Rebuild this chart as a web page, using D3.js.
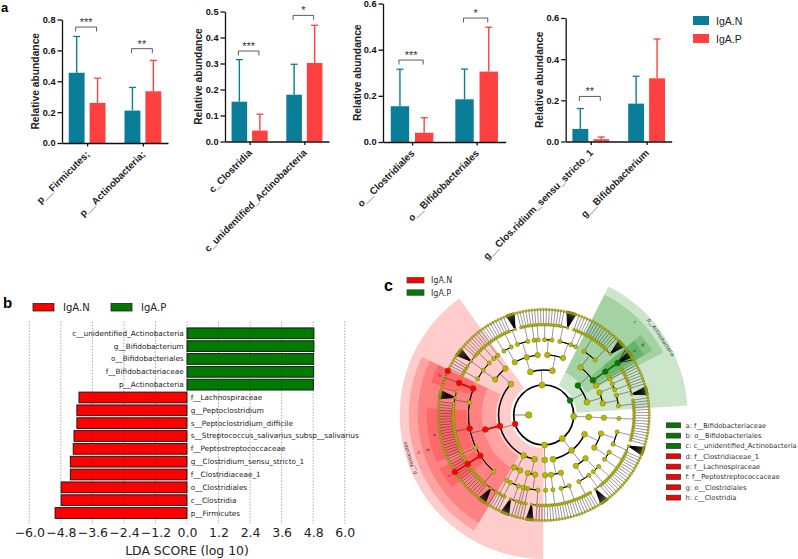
<!DOCTYPE html>
<html><head><meta charset="utf-8">
<script src="https://cdn.jsdelivr.net/npm/d3@7/dist/d3.min.js"></script>
<style>html,body{margin:0;padding:0;background:#fff}svg{display:block}</style>
</head><body><div id="c"></div>
<script>
// ---------- panel a data ----------
const seriesNames = ["IgA.N", "IgA.P"];
const groups1 = ["p__Firmicutes;", "p__Actinobacteria;"];
const mean1 = [[0.455, 0.26], [0.21, 0.335]];
const upper1 = [[0.69, 0.42], [0.36, 0.535]];
const stars1 = ["***", "**"];
const level1 = [0.751, 0.611];
const ticks1 = [0, 0.2, 0.4, 0.6, 0.8];
const groups2 = ["c_Clostridia", "c_unidentified_Actinobacteria"];
const mean2 = [[0.153, 0.042], [0.18, 0.302]];
const upper2 = [[0.315, 0.105], [0.297, 0.447]];
const stars2 = ["***", "*"];
const level2 = [0.348, 0.485];
const ticks2 = [0, 0.1, 0.2, 0.3, 0.4, 0.5];
const groups3 = ["o__Clostridiales", "o__Bifidobacteriales"];
const mean3 = [[0.155, 0.04], [0.185, 0.305]];
const upper3 = [[0.315, 0.105], [0.316, 0.497]];
const stars3 = ["***", "*"];
const level3 = [0.355, 0.537];
const ticks3 = [0, 0.2, 0.4, 0.6];
const groups4 = ["g__Clos.ridium_sensu_stricto_1", "g__Bifidobacterium"];
const mean4 = [[0.061, 0.011], [0.184, 0.307]];
const upper4 = [[0.16, 0.022], [0.317, 0.498]];
const stars4 = ["**", ""];
const level4 = [0.219, 0];
const ticks4 = [0, 0.2, 0.4, 0.6];
// ---------- panel b data ----------
const ldaNames = ["c__unidentified_Actinobacteria","g__Bifidobacterium","o__Bifidobacteriales","f__Bifidobacteriaceae","p__Actinobacteria","f__Lachnospiraceae","g__Peptoclostridium","s__Peptoclostridium_difficile","s__Streptococcus_salivarius_subsp__salivarius","f__Peptostreptococcaceae","g__Clostridium_sensu_stricto_1","f__Clostridiaceae_1","o__Clostridiales","c__Clostridia","p__Firmicutes"];
const ldaValues = [4.83,4.83,4.82,4.82,4.81,-4.11,-4.19,-4.19,-4.30,-4.33,-4.44,-4.44,-4.79,-4.79,-5.02];
const ldaTicks = [-6,-4.8,-3.6,-2.4,-1.2,0,1.2,2.4,3.6,4.8,6];
// ---------- panel c data: taxonomy as nested lists (number = unbranched lineage with that many species, negative = tight fan) ----------
const taxFirmicutes = ["p__Firmicutes",
  [[[1,1,1,-12],[1,1]],[1,1]],
  [[[1,-14],[1,1]],[[1,1]]],
  ["c__Clostridia",["o__Clostridiales",
    [1,-14,1,1,1,1,1,1,1,1],
    ["f__Peptostreptococcaceae",1,1,1,["g__Peptoclostridium",["s__Peptoclostridium_difficile"]],1,1,1],
    [1,1],
    ["f__Lachnospiraceae",1,1,1,1,1,1,1,1,1,1,1,1,1,1,1,1,1],
    [1,1,1,-14,1],
    ["f__Clostridiaceae_1",["g__Clostridium_sensu_stricto_1",1,1,1,1,1,["s__Streptococcus_salivarius"]]]
  ]],
  [[[1,1,1,1],[1,-14,1],[1,1,1]],[[1,1,1],[1,1]]]
];
const taxProteo = ["p__Proteobacteria",
  [[[1,1,1,1,1],[1,1,1]],[[1,-14],[1,1,1,1]],[[1,1],[1,1]]],
  [[[1,1,1,1],[1,1,1]],[[1,1,-16],[1,1,1],[1,1]]]
];
const taxActino = ["p__Actinobacteria",
  ["c__unidentified_Actinobacteria",
    [[1,1,1,1,1,1,1],[1,1,1,1,-14]],
    ["o__Bifidobacteriales",["f__Bifidobacteriaceae",["g__Bifidobacterium",1,-12,1]]],
    [1,1]
  ],
  [[[1,1,1,1],[1,1]],[[1,-14],[1,1,1,1]]]
];
const taxBacteroidetes = ["p__Bacteroidetes",[[[1,1,1,1,1,1,1,1]]]];
const taxSpiro = ["p__Tenericutes",
  [[[1,1,1,1,1],[-14,1,1]],[[1,1,1,1],[1,1,1,1]]],
  [[[1,1,1,1,1],[1,1]],[[1,-14],[1,1,1,1,1]]],
  [[[1,1,1,1,1],[1,1,1]],[[1,1,1,1,1]]]
];
const taxSmall = ["p__Synergistetes",[[[1,1]]]];
const phylaList = [taxFirmicutes, taxProteo, taxActino, taxBacteroidetes, taxSpiro, taxSmall];
const cladeNames = {"p__Firmicutes":"N","c__Clostridia":"N","o__Clostridiales":"N","f__Clostridiaceae_1":"N","f__Lachnospiraceae":"N","f__Peptostreptococcaceae":"N","g__Peptoclostridium":"N","s__Peptoclostridium_difficile":"N","g__Clostridium_sensu_stricto_1":"N","s__Streptococcus_salivarius":"N","p__Actinobacteria":"P","c__unidentified_Actinobacteria":"P","o__Bifidobacteriales":"P","f__Bifidobacteriaceae":"P","g__Bifidobacterium":"P"};
const sectorLetters = {"p__Firmicutes":"p__Firmicutes","c__Clostridia":"h","o__Clostridiales":"g","f__Clostridiaceae_1":"d","f__Lachnospiraceae":"e","f__Peptostreptococcaceae":"f","p__Actinobacteria":"p__Actinobacteria","c__unidentified_Actinobacteria":"c","o__Bifidobacteriales":"b","f__Bifidobacteriaceae":"a"};
const keyLabels = ["a: f__Bifidobacteriaceae","b: o__Bifidobacteriales","c: c__unidentified_Actinobacteria","d: f__Clostridiaceae_1","e: f__Lachnospiraceae","f: f__Peptostreptococcaceae","g: o__Clostridiales","h: c__Clostridia"];
const keyGroups = ["P","P","P","N","N","N","N","N"];

const svg = d3.select("#c").append("svg").attr("width",798).attr("height",559);
const AR = "'Liberation Sans',Arial,sans-serif", DV = "'DejaVu Sans',sans-serif";
const teal="#0a7d99", coral="#ff4040";
const lab=(t,x,y,s)=>svg.append("text").attr("x",x).attr("y",y).attr("font-family",AR).attr("font-weight",700).attr("font-size",s).text(t);
lab("a",1,12,13); lab("b",3,308,15); lab("c",384,291,16);

// ---------- panel a ----------
const panels=[
 {g:groups1,m:mean1,u:upper1,s:stars1,l:level1,t:ticks1,max:.8,x0:62,x1:168,y0:143,y1:19.5,tx:35},
 {g:groups2,m:mean2,u:upper2,s:stars2,l:level2,t:ticks2,max:.5,x0:225,x1:329,y0:141.5,y1:11.5,tx:198},
 {g:groups3,m:mean3,u:upper3,s:stars3,l:level3,t:ticks3,max:.6,x0:383,x1:505.7,y0:142,y1:3.5,tx:357},
 {g:groups4,m:mean4,u:upper4,s:stars4,l:level4,t:ticks4,max:.6,x0:565.7,x1:671.7,y0:141.5,y1:18,tx:539}];
panels.forEach(p=>{
  const x=d3.scalePoint().domain(p.g).range([p.x0,p.x1]).padding(.45);
  const y=d3.scaleLinear().domain([0,p.max]).range([p.y0,p.y1]);
  const st=x.step();
  const inner=d3.scaleBand().domain(seriesNames).range([-.33*st,.33*st]).paddingInner(.24);
  const G=svg.append("g");
  p.g.forEach((c,i)=>{
    seriesNames.forEach((s,j)=>{
      const col=j?coral:teal, bx=x(c)+inner(s), bw=inner.bandwidth(), cx=bx+bw/2;
      G.append("line").attr("x1",cx).attr("x2",cx).attr("y1",y(p.u[i][j])).attr("y2",y(p.m[i][j])).attr("stroke",col).attr("stroke-width",1.4);
      G.append("line").attr("x1",cx-3.5).attr("x2",cx+3.5).attr("y1",y(p.u[i][j])).attr("y2",y(p.u[i][j])).attr("stroke",col).attr("stroke-width",1.3);
      G.append("rect").attr("x",bx).attr("y",y(p.m[i][j])).attr("width",bw).attr("height",y(0)-y(p.m[i][j])).attr("fill",col);
    });
    if(p.s[i]){
      const a=x(c)+inner(seriesNames[0])+inner.bandwidth()/2-1, b=x(c)+inner(seriesNames[1])+inner.bandwidth()/2-1, yy=y(p.l[i]);
      G.append("path").attr("d",`M${a},${yy+4.5}V${yy}H${b}V${yy+4.5}`).attr("fill","none").attr("stroke","#333").attr("stroke-width",.8);
      G.append("text").attr("x",(a+b)/2).attr("y",yy-1).attr("text-anchor","middle").attr("font-family",AR).attr("font-size",11).attr("fill","#333").text(p.s[i]);
    }
  });
  const ay=G.append("g").attr("transform",`translate(${p.x0},0)`).call(d3.axisLeft(y).tickValues(p.t).tickFormat(d3.format(".1f")).tickSize(4.5).tickSizeOuter(0).tickPadding(2));
  const ax=G.append("g").attr("transform",`translate(0,${p.y0})`).call(d3.axisBottom(x).tickSize(3.5).tickSizeOuter(0).tickFormat(""));
  [ay,ax].forEach(a=>{a.selectAll("path,line").attr("stroke","#111").attr("stroke-width",1.3);});
  ay.selectAll("text").attr("font-family",AR).attr("font-weight",700).attr("font-size",9.2).attr("fill","#111");
  p.g.forEach(c=>{
    G.append("text").attr("transform",`translate(${x(c)+3},${p.y0+12}) rotate(-45)`).attr("text-anchor","end").attr("font-family",AR).attr("font-weight",700).attr("font-size",9.8).attr("fill","#222").text(c);
  });
  G.append("text").attr("transform",`translate(${p.tx+3.5},${(p.y0+p.y1)/2}) rotate(-90)`).attr("text-anchor","middle").attr("font-family",AR).attr("font-weight",700).attr("font-size",10.3).attr("fill","#222").text("Relative abundance");
});
seriesNames.forEach((s,i)=>{
  svg.append("rect").attr("x",693).attr("y",16+i*18).attr("width",16).attr("height",9).attr("fill",i?coral:teal);
  svg.append("text").attr("x",716).attr("y",24.5+i*18).attr("font-family",AR).attr("font-size",10.5).attr("fill","#222").text(s);
});

// ---------- panel b ----------
{
  const x=d3.scaleLinear().domain([-6,6]).range([29.3,344.7]);
  const y=d3.scaleBand().domain(ldaNames).range([327.9,518.4]).paddingInner(.16);
  const G=svg.append("g");
  ldaNames.forEach((n,i)=>{
    const v=ldaValues[i];
    G.append("rect").attr("x",x(Math.min(0,v))).attr("y",y(n)).attr("width",Math.abs(x(v)-x(0))).attr("height",y.bandwidth())
      .attr("fill",v<0?"#ff0000":"#007a00").attr("stroke","#111").attr("stroke-width",.9);
  });
  ldaTicks.forEach(t=>{
    G.append("line").attr("x1",x(t)).attr("x2",x(t)).attr("y1",321.7).attr("y2",523.3).attr("stroke","#333").attr("stroke-width",.6).attr("stroke-dasharray","1 2");
  });
  ldaNames.forEach((n,i)=>{
    const v=ldaValues[i];
    G.append("text").attr("x",v<0?x(0)+3.7:x(0)-3.3).attr("y",y(n)+y.bandwidth()/2+2.5).attr("text-anchor",v<0?"start":"end")
      .attr("font-family",DV).attr("font-size",7.3).attr("fill","#222").text(n);
  });
  const ax=G.append("g").attr("transform","translate(0,523.3)").call(d3.axisBottom(x).tickValues(ldaTicks).tickSize(0).tickPadding(5).tickFormat(d3.format(".1f")));
  ax.select(".domain").remove();
  ax.selectAll("text").attr("font-family",DV).attr("font-size",12.5).attr("fill","#222");
  G.append("text").attr("x",187).attr("y",554.5).attr("text-anchor","middle").attr("font-family",DV).attr("font-size",12.4).attr("fill","#222").text("LDA SCORE (log 10)");
  [["IgA.N","#ff0000",33,63],["IgA.P","#007a00",111,141]].forEach(l=>{
    G.append("rect").attr("x",l[2]).attr("y",303.5).attr("width",21).attr("height",7.5).attr("fill",l[1]).attr("stroke","#222").attr("stroke-width",.8);
    G.append("text").attr("x",l[3]).attr("y",311).attr("font-family",DV).attr("font-size",10).attr("fill","#222").text(l[0]);
  });
}

// ---------- panel c ----------
{
  const cx=543.7, cy=415;
  function build(item,depth){
    if(typeof item==="number"){
      if(depth===5){
        const n=Math.abs(item);
        return {children:d3.range(n).map(()=>({dense:item<0}))};
      }
      return {children:[build(item,depth+1)]};
    }
    const named=typeof item[0]==="string", o={name:named?item[0]:null};
    const rest=named?item.slice(1):item;
    const kids=[];
    rest.forEach(r=>{
      if(typeof r==="number"&&depth+1>=6){ d3.range(Math.abs(r)).forEach(()=>kids.push({dense:r<0})); }
      else kids.push(build(r,depth+1));
    });
    o.children=kids;
    return o;
  }
  const root=d3.hierarchy({children:phylaList.map(p=>build(p,1))});
  d3.cluster().size([360,1]).separation((a,b)=>(a.data.dense&&b.data.dense)?.22:1)(root);
  const start=181-root.leaves()[0].x;
  root.eachAfter(d=>{
    if(d.children) d.x=(d.children[0].x+d.children[d.children.length-1].x)/2;
    else d.x=d.x+start;
  });
  const R=d3.scaleLinear().domain([1,6]).range([30,105.5]);
  const rad=d=>d*Math.PI/180;
  const P=(deg,r)=>{const p=d3.pointRadial(rad(deg),r);return [cx+p[0],cy+p[1]];};
  const G=svg.append("g"), C=G.append("g").attr("transform",`translate(${cx},${cy})`);
  const bandIn={1:33,2:48,3:62,4:77}, bandOut={1:144,2:135,3:126,4:117}, labelR={1:139,2:129,3:120,4:110};
  const pad=.8;
  const nodes=root.descendants().filter(d=>d.depth>0);
  const grp=d=>d.data.name?cladeNames[d.data.name]:null;
  const arc=d3.arc();
  nodes.filter(d=>d.depth<=4&&grp(d)&&sectorLetters[d.data.name]).sort((a,b)=>a.depth-b.depth).forEach(d=>{
    const ls=d.leaves(), a0=ls[0].x-pad, a1=ls[ls.length-1].x+pad;
    C.append("path").attr("d",arc({innerRadius:bandIn[d.depth],outerRadius:bandOut[d.depth],startAngle:rad(a0),endAngle:rad(a1)}))
      .attr("fill",grp(d)==="N"?"#ff0000":"#008000").attr("fill-opacity",.2);
  });
  const widths={0:1.7,1:1.5,2:1.2,3:.9,4:.5,5:.45};
  const links=G.append("g").attr("fill","none"), dots=G.append("g");
  C.append("circle").attr("r",R(1)).attr("fill","none").attr("stroke","#000").attr("stroke-width",widths[0]);
  const rp=P(270,15), rq=P(270,30);
  links.append("line").attr("x1",rp[0]).attr("y1",rp[1]).attr("x2",rq[0]).attr("y2",rq[1]).attr("stroke","#333").attr("stroke-width",.6);
  nodes.filter(d=>d.children).forEach(d=>{
    const rc=R(d.depth+1), first=d.children[0], last=d.children[d.children.length-1];
    const fan=d.children.some(k=>k.data.dense);
    if(fan){
      const a=P(d.x,R(d.depth));
      d.children.forEach(k=>{
        const b=P(k.x,rc);
        links.append("line").attr("x1",a[0]).attr("y1",a[1]).attr("x2",b[0]).attr("y2",b[1]).attr("stroke","#000").attr("stroke-width",.7);
      });
      return;
    }
    if(last.x-first.x>.01){
      C.append("path").attr("d",d3.arc()({innerRadius:rc,outerRadius:rc,startAngle:rad(first.x),endAngle:rad(last.x)})).attr("fill","none").attr("stroke","#000").attr("stroke-width",widths[d.depth]);
    }
    const a=P(d.x,R(d.depth)), b=P(d.x,rc);
    links.append("line").attr("x1",a[0]).attr("y1",a[1]).attr("x2",b[0]).attr("y2",b[1]).attr("stroke","#333").attr("stroke-width",.5);
  });
  nodes.filter(d=>d.depth>=3&&grp(d)&&d.parent&&grp(d.parent)&&Math.abs(d.x-d.parent.x)<3).forEach(d=>{
    const a=P(d.parent.x,R(d.depth-1)), b=P(d.x,R(d.depth));
    links.append("line").attr("x1",a[0]).attr("y1",a[1]).attr("x2",b[0]).attr("y2",b[1]).attr("stroke",grp(d)==="N"?"#e00000":"#007a00").attr("stroke-width",1.7);
  });
  const nodeR={1:3.1,2:3,3:2.8,4:2.2,5:1.5,6:1.2};
  const draw=(x,y,r,f)=>dots.append("circle").attr("cx",x).attr("cy",y).attr("r",r).attr("fill",f).attr("stroke","#5a5a20").attr("stroke-width",.35);
  draw(rp[0],rp[1],3.3,"#b8b800");
  nodes.filter(d=>!grp(d)).concat(nodes.filter(d=>grp(d))).forEach(d=>{
    const p=P(d.x,R(d.depth)), g=grp(d);
    draw(p[0],p[1],g?3:nodeR[d.depth],g==="N"?"#ff0000":g==="P"?"#007a00":"#b8b800");
  });
  nodes.filter(d=>sectorLetters[d.data.name]).forEach(d=>{
    const ls=d.leaves(), mid=(ls[0].x+ls[ls.length-1].x)/2, p=P(mid,labelR[d.depth]);
    C.append("text").attr("transform",`translate(${p[0]-cx},${p[1]-cy}) rotate(${mid})`).attr("text-anchor","middle").attr("font-family",DV).attr("font-size",d.depth===1?5:4.5).attr("fill","#333").text(sectorLetters[d.data.name]);
  });
  seriesNames.forEach((s,i)=>{
    G.append("rect").attr("x",407).attr("y",277.5+i*12.3).attr("width",17).attr("height",5.5).attr("fill",i?"#007a00":"#ff0000").attr("stroke","#444").attr("stroke-width",.7);
    G.append("text").attr("x",431).attr("y",283.3+i*12.3).attr("font-family",DV).attr("font-size",8).attr("fill","#333").text(s);
  });
  keyLabels.forEach((t,i)=>{
    const yy=425.3+i*10.33;
    G.append("rect").attr("x",666.5).attr("y",yy-2.4).attr("width",14).attr("height",4.8).attr("fill",keyGroups[i]==="N"?"#ff0000":"#007a00").attr("stroke","#333").attr("stroke-width",.8);
    G.append("text").attr("x",685.5).attr("y",yy+2.3).attr("font-family",DV).attr("font-size",6.75).attr("fill","#333").text(t);
  });
}
</script></body></html>
